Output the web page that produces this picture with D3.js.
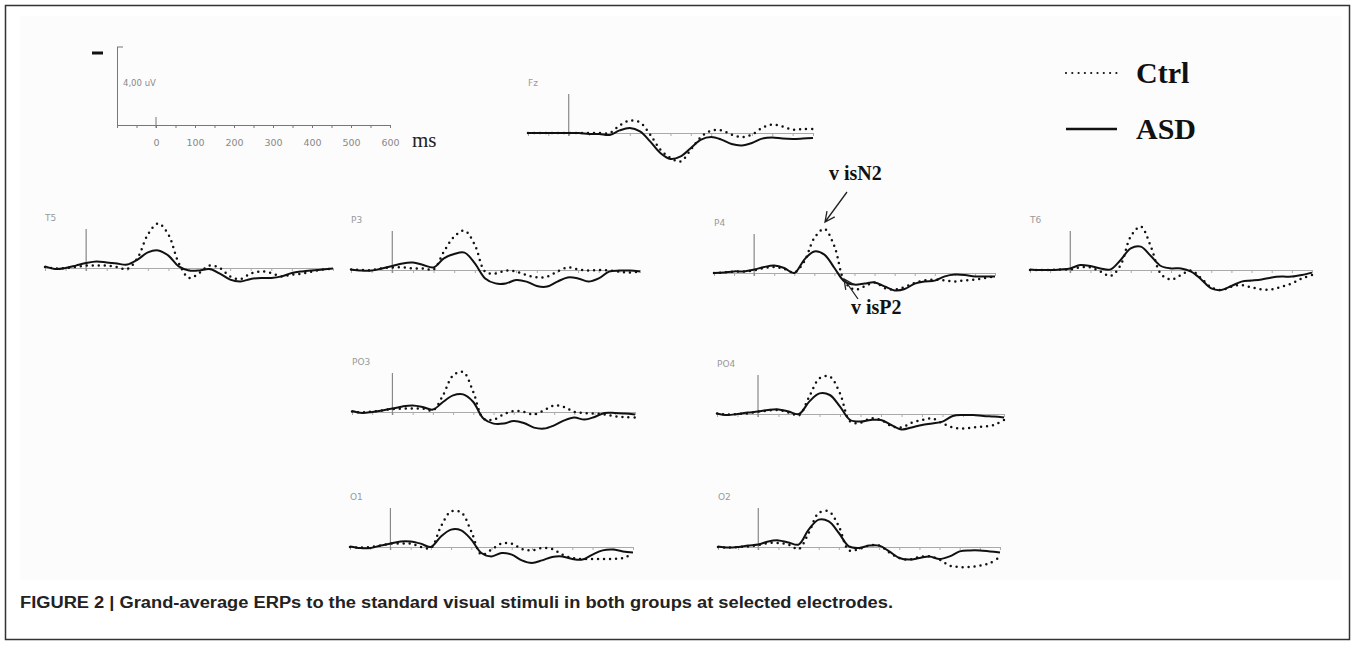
<!DOCTYPE html>
<html lang="en">
<head>
<meta charset="UTF-8">
<title>Grand-average ERPs</title>
<script src="https://cdnjs.cloudflare.com/ajax/libs/d3/7.8.5/d3.min.js"></script>
<style>
  body { margin: 0; background: #fff; }
  svg { display: block; }
</style>
</head>
<body>
<svg id="chart" width="1355" height="645"></svg>
<script>
// sample times (ms), one value every 25 ms from -100 to 600
const times = d3.range(-100, 601, 25);

// amplitudes in uV (negative is plotted up, as in the original)
const ctrlFz = [0,0,0,0,0,0,0,0,0,-0.37,-0.62,-0.53,0.08,0.83,1.25,1.42,0.83,0.2,-0.12,-0.13,0.08,0.2,0.08,-0.25,-0.42,-0.33,-0.17,-0.2,-0.2];
const asdFz  = [0,0,0,0,0,0,0.05,0.05,0.1,-0.13,-0.25,-0.08,0.42,1.0,1.3,1.17,0.75,0.33,0.2,0.33,0.55,0.62,0.5,0.28,0.22,0.28,0.3,0.28,0.25];
const ctrlT5 = [-0.05,0.02,0,-0.05,-0.12,-0.12,-0.12,-0.05,0.05,-0.5,-1.67,-2.22,-1.67,-0.25,0.5,0.25,-0.12,0,0.42,0.55,0.28,0.17,0.25,0.42,0.33,0.28,0.17,0.08,0.03];
const asdT5  = [-0.08,0.05,0,-0.12,-0.25,-0.33,-0.28,-0.22,-0.17,-0.42,-0.78,-0.88,-0.62,-0.08,0.12,0.12,0.05,0.28,0.58,0.67,0.55,0.5,0.5,0.42,0.25,0.17,0.12,0.08,0.03];
const ctrlP3 = [-0.03,0,0,-0.08,-0.13,-0.13,-0.08,-0.08,-0.03,-0.92,-1.67,-1.97,-1.25,0.08,0.17,0.03,0.08,0.25,0.37,0.33,0.08,-0.13,-0.03,0.03,0,0.03,0.08,0.13,0.08];
const asdP3  = [-0.03,0.03,0.03,-0.08,-0.2,-0.33,-0.37,-0.25,-0.13,-0.58,-0.8,-0.87,-0.33,0.42,0.67,0.67,0.5,0.58,0.8,0.83,0.58,0.37,0.42,0.58,0.42,0.08,0.03,0.03,0.07];
const ctrlP4 = [0,-0.03,-0.07,-0.08,-0.13,-0.25,-0.3,-0.2,-0.03,-0.58,-1.75,-2.2,-1.33,0.42,0.83,0.67,0.47,0.75,0.83,0.7,0.5,0.37,0.33,0.37,0.42,0.37,0.33,0.25,0.17];
const asdP4  = [0,-0.03,-0.08,-0.08,-0.17,-0.3,-0.37,-0.25,0,-0.67,-1.08,-0.92,-0.25,0.42,0.58,0.53,0.47,0.67,0.87,0.8,0.53,0.42,0.38,0.17,0.08,0.1,0.17,0.17,0.17];
const ctrlT6 = [0,0,0,-0.03,-0.03,-0.13,-0.13,0.08,0.3,-0.25,-1.67,-2.17,-1.17,0.2,0.47,0.25,0.03,0.42,0.87,1.0,0.83,0.75,0.87,0.97,0.97,0.83,0.67,0.42,0.25];
const asdT6  = [-0.03,0,0,-0.03,-0.08,-0.25,-0.2,-0.08,-0.03,-0.5,-1.08,-1.17,-0.7,-0.2,-0.08,-0.08,0.08,0.47,0.92,1.0,0.8,0.58,0.53,0.47,0.37,0.33,0.33,0.25,0.13];
const ctrlPO3 = [-0.02,0.02,-0.02,-0.08,-0.15,-0.17,-0.17,-0.17,-0.08,-0.83,-1.83,-2.0,-1.0,0.33,0.38,0.12,-0.05,0,0.12,-0.08,-0.33,-0.25,0,0.05,0.08,0.12,0.22,0.25,0.28];
const asdPO3  = [-0.05,0.05,0,-0.08,-0.17,-0.28,-0.33,-0.25,-0.12,-0.5,-0.83,-0.88,-0.5,0.33,0.58,0.58,0.45,0.55,0.78,0.83,0.67,0.42,0.28,0.38,0.25,0.05,0.05,0.08,0.12];
const ctrlPO4 = [-0.03,0.03,0,-0.03,-0.12,-0.17,-0.2,-0.07,0.05,-0.87,-1.78,-1.87,-1.03,0.38,0.43,0.22,0.3,0.6,0.67,0.43,0.3,0.22,0.47,0.67,0.72,0.67,0.63,0.55,0.3];
const asdPO4  = [-0.03,0.05,0,-0.07,-0.12,-0.2,-0.23,-0.12,0,-0.62,-1.03,-0.95,-0.37,0.3,0.38,0.3,0.3,0.55,0.77,0.67,0.55,0.47,0.38,0.1,0.05,0.05,0.1,0.13,0.17];
const ctrlO1 = [0,0.03,0,-0.07,-0.17,-0.17,-0.17,0,0.05,-1.03,-1.78,-1.73,-0.78,0.38,0.13,-0.17,-0.17,0.1,0.17,0.05,0.1,0.38,0.55,0.6,0.6,0.6,0.6,0.55,0.33];
const asdO1  = [-0.03,0.05,0.05,-0.07,-0.17,-0.28,-0.28,-0.17,0,-0.53,-0.87,-0.83,-0.37,0.3,0.47,0.3,0.38,0.67,0.8,0.67,0.5,0.47,0.6,0.63,0.38,0.17,0.13,0.22,0.27];
const ctrlO2 = [0,0.03,0,-0.03,-0.1,-0.2,-0.2,-0.12,0.1,-0.7,-1.7,-1.78,-1.03,0.17,0.1,-0.07,-0.07,0.27,0.55,0.63,0.5,0.47,0.63,0.93,1.0,1.0,0.93,0.8,0.5];
const asdO2  = [-0.03,0.03,0,-0.07,-0.12,-0.28,-0.33,-0.23,-0.12,-0.87,-1.37,-1.28,-0.7,-0.03,0.05,-0.07,-0.07,0.22,0.55,0.63,0.55,0.47,0.6,0.47,0.22,0.17,0.17,0.22,0.27];

// scale bar ticks
const scaleTickLabels = [0, 100, 200, 300, 400, 500, 600];
const scaleBarUV = 4;

// where each electrode sits on the page
const panels = [
  { name: "Fz",  ctrl: ctrlFz,  asd: asdFz,  x0: 528,  x1: 813,  base: 133 },
  { name: "T5",  ctrl: ctrlT5,  asd: asdT5,  x0: 45,   x1: 333,  base: 268 },
  { name: "P3",  ctrl: ctrlP3,  asd: asdP3,  x0: 351,  x1: 640,  base: 270 },
  { name: "P4",  ctrl: ctrlP4,  asd: asdP4,  x0: 714,  x1: 995,  base: 273 },
  { name: "T6",  ctrl: ctrlT6,  asd: asdT6,  x0: 1030, x1: 1312, base: 270 },
  { name: "PO3", ctrl: ctrlPO3, asd: asdPO3, x0: 352,  x1: 635,  base: 412 },
  { name: "PO4", ctrl: ctrlPO4, asd: asdPO4, x0: 717,  x1: 1004, base: 414 },
  { name: "O1",  ctrl: ctrlO1,  asd: asdO1,  x0: 350,  x1: 633,  base: 547 },
  { name: "O2",  ctrl: ctrlO2,  asd: asdO2,  x0: 718,  x1: 1000, base: 547 }
];

const pxPerUV = 20;
const svg = d3.select("#chart");

// frame + very light picture area
svg.append("rect").attr("x", 20).attr("y", 16).attr("width", 1322).attr("height", 564)
  .attr("fill", "#fcfcfc");
svg.append("rect").attr("x", 5.5).attr("y", 5.5).attr("width", 1344).attr("height", 634)
  .attr("fill", "none").attr("stroke", "#333").attr("stroke-width", 1.5);

// ---------- scale bar ----------
const sx = d3.scaleLinear().domain([-100, 600]).range([117, 390]);
const sy = d3.scaleLinear().domain([0, -scaleBarUV]).range([125, 47]);
const sg = svg.append("g");
const sAxis = sg.append("g").attr("transform", "translate(0,125)")
  .call(d3.axisBottom(sx).tickValues(d3.range(-100, 601, 50)).tickSize(3).tickPadding(11)
    .tickFormat(d => scaleTickLabels.includes(d) ? d : ""));
sAxis.select(".domain").attr("stroke", "#777");
sAxis.selectAll(".tick line").attr("stroke", "#777");
sAxis.selectAll(".tick text").attr("fill", "#888").attr("font-size", 9.5)
  .attr("font-family", "DejaVu Sans, sans-serif");
sg.append("line").attr("x1", sx(0)).attr("x2", sx(0)).attr("y1", 117).attr("y2", 128)
  .attr("stroke", "#777");
sg.append("line").attr("x1", 117.5).attr("x2", 117.5).attr("y1", sy(0)).attr("y2", sy(-scaleBarUV))
  .attr("stroke", "#777");
sg.append("line").attr("x1", 117).attr("x2", 123).attr("y1", sy(-scaleBarUV)).attr("y2", sy(-scaleBarUV))
  .attr("stroke", "#777");
sg.append("text").attr("x", 123).attr("y", 86).text("4,00 uV")
  .attr("font-size", 8.5).attr("fill", "#888").attr("font-family", "DejaVu Sans, sans-serif");
sg.append("line").attr("x1", 92).attr("x2", 103).attr("y1", 53).attr("y2", 53)
  .attr("stroke", "#111").attr("stroke-width", 3);
sg.append("text").attr("x", 412).attr("y", 147).text("ms")
  .attr("font-size", 21).attr("font-family", "Liberation Serif, serif").attr("fill", "#222");

// ---------- legend ----------
const legend = [
  { label: "Ctrl", dotted: true, y: 73 },
  { label: "ASD", dotted: false, y: 129 }
];
const lg = svg.append("g");
lg.selectAll("line").data(legend).join("line")
  .attr("x1", 1066).attr("x2", 1117).attr("y1", d => d.y).attr("y2", d => d.y)
  .attr("stroke", "#111")
  .attr("stroke-width", d => d.dotted ? 2.2 : 2.6)
  .attr("stroke-dasharray", d => d.dotted ? "0,6.3" : null)
  .attr("stroke-linecap", d => d.dotted ? "round" : "butt");
lg.selectAll("text").data(legend).join("text")
  .attr("x", 1136).attr("y", d => d.y + 10).text(d => d.label)
  .attr("font-family", "Liberation Serif, serif").attr("font-weight", "bold")
  .attr("font-size", 30).attr("fill", "#111");

// ---------- electrode panels ----------
panels.forEach(p => {
  const x = d3.scaleLinear().domain([-100, 600]).range([p.x0, p.x1]);
  const y = v => p.base + v * pxPerUV;
  const g = svg.append("g");

  const ax = g.append("g").attr("transform", `translate(0,${p.base})`)
    .call(d3.axisBottom(x).tickValues(d3.range(-100, 601, 50)).tickSize(3).tickFormat(""));
  ax.select(".domain").attr("stroke", "#aaa");
  ax.selectAll(".tick line").attr("stroke", "#aaa");

  g.append("line").attr("x1", x(0)).attr("x2", x(0))
    .attr("y1", p.base - 39).attr("y2", p.base + 3)
    .attr("stroke", "#888").attr("stroke-width", 1.2);

  g.append("text").attr("x", p.x0).attr("y", p.base - 47).text(p.name)
    .attr("font-size", 9).attr("fill", "#999").attr("font-family", "DejaVu Sans, sans-serif");

  const line = d3.line().x((d, i) => x(times[i])).y(d => y(d)).curve(d3.curveCatmullRom.alpha(0.5));

  g.append("path").attr("d", line(p.asd)).attr("fill", "none")
    .attr("stroke", "#111").attr("stroke-width", 2);
  g.append("path").attr("d", line(p.ctrl)).attr("fill", "none")
    .attr("stroke", "#111").attr("stroke-width", 2.5)
    .attr("stroke-dasharray", "0,6").attr("stroke-linecap", "round");
});

// ---------- annotations ----------
const notes = [
  { text: "v isN2", tx: 829, ty: 180, from: [847, 192], to: [825, 222] },
  { text: "v isP2", tx: 851, ty: 314, from: [858, 299], to: [844, 279] }
];
notes.forEach(n => {
  const ang = Math.atan2(n.to[1] - n.from[1], n.to[0] - n.from[0]);
  const head = s => [n.to[0] - 11 * Math.cos(ang + s), n.to[1] - 11 * Math.sin(ang + s)];
  const h1 = head(0.45), h2 = head(-0.45);
  svg.append("path")
    .attr("d", `M${n.from}L${n.to}M${h1}L${n.to}L${h2}`)
    .attr("fill", "none").attr("stroke", "#222").attr("stroke-width", 1.3);
  svg.append("text").attr("x", n.tx).attr("y", n.ty).text(n.text)
    .attr("font-family", "Liberation Serif, serif").attr("font-weight", "bold")
    .attr("font-size", 20).attr("fill", "#111");
});

// ---------- caption ----------
svg.append("text").attr("x", 20).attr("y", 608)
  .text("FIGURE 2 | Grand-average ERPs to the standard visual stimuli in both groups at selected electrodes.")
  .attr("font-family", "Liberation Sans Narrow, Arial Narrow, Liberation Sans, sans-serif")
  .attr("font-weight", "bold").attr("font-size", 16).attr("fill", "#222")
  .attr("textLength", 873).attr("lengthAdjust", "spacingAndGlyphs");
</script>
</body>
</html>
